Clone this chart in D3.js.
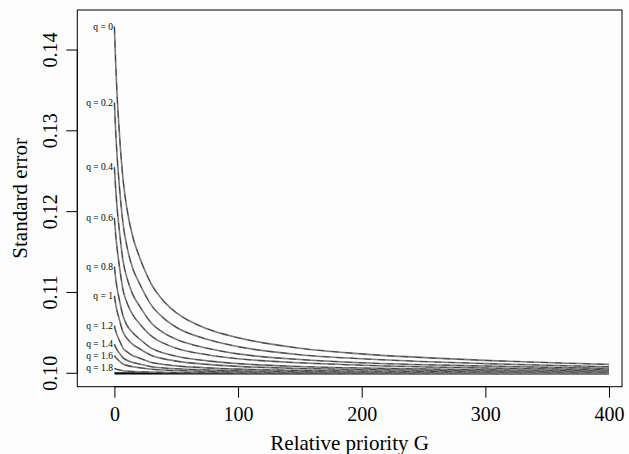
<!DOCTYPE html>
<html>
<head>
<meta charset="utf-8">
<script src="https://cdn.jsdelivr.net/npm/d3@7"></script>
<style>
  body { margin: 0; background: #fdfdfd; }
  svg { display: block; }
  text { font-family: "Liberation Serif", "Times New Roman", serif; fill: #000; }
</style>
</head>
<body>
<div id="chart"></div>
<script>
// relative priority G where the curves were read
const gValues = [0, 1, 2, 4, 7, 10, 15, 20, 30, 40, 50, 75, 100, 150, 200, 300, 400];

const qLabels = ['q = 0', 'q = 0.2', 'q = 0.4', 'q = 0.6', 'q = 0.8', 'q = 1', 'q = 1.2', 'q = 1.4', 'q = 1.6', 'q = 1.8'];

// standard error per q
const seQ00 = [0.1429, 0.1385, 0.1350, 0.1298, 0.1240, 0.1205, 0.1168, 0.1145, 0.1110, 0.1089, 0.1075, 0.1055, 0.1044, 0.1031, 0.1024, 0.1016, 0.1011];
const seQ02 = [0.1335, 0.1300, 0.1273, 0.1232, 0.1185, 0.1158, 0.1129, 0.1112, 0.1084, 0.1068, 0.1057, 0.1042, 0.1033, 0.1023, 0.1018, 0.1012, 0.1008];
const seQ04 = [0.1255, 0.1229, 0.1208, 0.1177, 0.1139, 0.1119, 0.1097, 0.1084, 0.1062, 0.1050, 0.1042, 0.1031, 0.1024, 0.1017, 0.1013, 0.1009, 0.1006];
const seQ06 = [0.1192, 0.1172, 0.1157, 0.1133, 0.1103, 0.1088, 0.1072, 0.1062, 0.1046, 0.1037, 0.1031, 0.1023, 0.1018, 0.1013, 0.1010, 0.10065, 0.10045];
const seQ08 = [0.1132, 0.1118, 0.1107, 0.1091, 0.1071, 0.1060, 0.1050, 0.1043, 0.1031, 0.1025, 0.1021, 0.10154, 0.1012, 0.10084, 0.10065, 0.10044, 0.1003];
const seQ10 = [0.10957, 0.10859, 0.10781, 0.10665, 0.10509, 0.10435, 0.10356, 0.10307, 0.1022, 0.10178, 0.1015, 0.1011, 0.10085, 0.1006, 0.10047, 0.10031, 0.10021];
const seQ12 = [0.10588, 0.10527, 0.1048, 0.10408, 0.10312, 0.10267, 0.10218, 0.10189, 0.10134, 0.10109, 0.10092, 0.10067, 0.10051, 0.10036, 0.10028, 0.10019, 0.10013];
const seQ14 = [0.1036, 0.10323, 0.10294, 0.1025, 0.1019, 0.10162, 0.10133, 0.10115, 0.10081, 0.10066, 0.10056, 0.10041, 0.10031, 0.10022, 0.10017, 0.10011, 0.10008];
const seQ16 = [0.10219, 0.10196, 0.10179, 0.10152, 0.10115, 0.10098, 0.10081, 0.1007, 0.1005, 0.1004, 0.10034, 0.10025, 0.10018, 0.10013, 0.1001, 0.10007, 0.10005];
const seQ18 = [0.1006, 0.10054, 0.10049, 0.10042, 0.10031, 0.10027, 0.10022, 0.10019, 0.10014, 0.10011, 0.10009, 0.10007, 0.10005, 0.10004, 0.10003, 0.10002, 0.10001];
const seQ20 = [0.1, 0.1, 0.1, 0.1, 0.1, 0.1, 0.1, 0.1, 0.1, 0.1, 0.1, 0.1, 0.1, 0.1, 0.1, 0.1, 0.1];

const xTicks = [0, 100, 200, 300, 400];
const yTicks = [0.10, 0.11, 0.12, 0.13, 0.14];

const series = [seQ00, seQ02, seQ04, seQ06, seQ08, seQ10, seQ12, seQ14, seQ16, seQ18];

const width = 629, height = 454;
const box = { left: 77.3, right: 622, top: 10, bottom: 386.7 };

const svg = d3.select('#chart').append('svg').attr('width', width).attr('height', height);

const x = d3.scaleLinear().domain([-30, 410.5]).range([box.left, box.right]);
const y = d3.scaleLinear().domain([0.09834, 0.14495]).range([box.bottom, box.top]);

const line = d3.line()
    .x((d, i) => x(gValues[i]))
    .y(d => y(d))
    .curve(d3.curveMonotoneX);

const curves = svg.append('g');
curves.append('path')
    .attr('d', line(seQ20))
    .attr('fill', 'none').attr('stroke', '#000').attr('stroke-width', 2.2);

series.slice().reverse().forEach(s => {
    curves.append('path')
        .attr('d', line(s))
        .attr('fill', 'none').attr('stroke', '#7a7a7a').attr('stroke-width', 1.6);
    curves.append('path')
        .attr('d', line(s))
        .attr('fill', 'none').attr('stroke', '#2a2a2a').attr('stroke-width', 0.7)
        .attr('stroke-dasharray', '7,7');
});

// curve labels just left of G = 0
svg.append('g').selectAll('text')
    .data(series)
    .join('text')
    .attr('x', x(0) - 1.5)
    .attr('y', d => y(d[0]))
    .attr('dy', '0.32em')
    .attr('text-anchor', 'end')
    .style('font-size', '9.5px')
    .text((d, i) => qLabels[i]);

svg.append('rect')
    .attr('x', box.left).attr('y', box.top)
    .attr('width', box.right - box.left).attr('height', box.bottom - box.top)
    .attr('fill', 'none').attr('stroke', '#000').attr('stroke-width', 1);

const xAxis = svg.append('g')
    .attr('transform', `translate(0,${box.bottom})`)
    .call(d3.axisBottom(x).tickValues(xTicks).tickSize(11).tickPadding(9).tickFormat(d3.format('d')));
xAxis.select('.domain').attr('d', `M${x(0)},0H${x(400)}`);
xAxis.selectAll('text').style('font-size', '20px').attr('font-family', null);

const yAxis = svg.append('g')
    .attr('transform', `translate(${box.left},0)`)
    .call(d3.axisLeft(y).tickValues(yTicks).tickSize(11).tickFormat(d3.format('.2f')));
yAxis.select('.domain').attr('d', `M0,${y(0.10)}V${y(0.14)}`);
yAxis.selectAll('text')
    .style('font-size', '20px')
    .attr('font-family', null)
    .attr('x', null).attr('dy', null)
    .attr('text-anchor', 'middle')
    .attr('transform', d => `translate(-20.5,${y(d)}) rotate(-90)`);
yAxis.selectAll('.tick').attr('transform', null);
yAxis.selectAll('.tick line').attr('y1', d => y(d)).attr('y2', d => y(d));

svg.append('text')
    .attr('x', (box.left + box.right) / 2)
    .attr('y', 450)
    .attr('text-anchor', 'middle')
    .style('font-size', '21px')
    .text('Relative priority G');

svg.append('text')
    .attr('transform', `translate(27,${(box.top + box.bottom) / 2}) rotate(-90)`)
    .attr('text-anchor', 'middle')
    .style('font-size', '21px')
    .text('Standard error');
</script>
</body>
</html>
